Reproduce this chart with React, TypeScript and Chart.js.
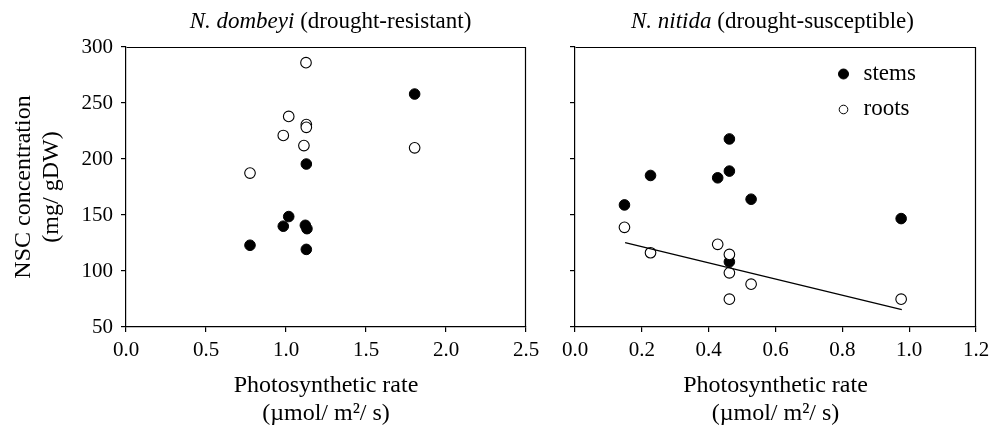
import React, { useEffect, useRef } from 'react';
import { Chart, registerables } from 'chart.js';

Chart.register(...registerables);

const FONT = '"Liberation Serif", "Times New Roman", serif';

// Tick labels
const yTickValues = [50, 100, 150, 200, 250, 300];
const leftXTickLabels = ['0.0', '0.5', '1.0', '1.5', '2.0', '2.5'];
const rightXTickLabels = ['0.0', '0.2', '0.4', '0.6', '0.8', '1.0', '1.2'];

// N. dombeyi (drought-resistant)
const dombeyiStemsX = [0.775, 0.983, 1.017, 1.121, 1.131, 1.127, 1.127, 1.804];
const dombeyiStemsY = [123, 140, 148.6, 140.8, 137.8, 119.3, 195.5, 258];
const dombeyiRootsX = [0.775, 0.983, 1.017, 1.112, 1.127, 1.127, 1.125, 1.804];
const dombeyiRootsY = [187.4, 221, 238, 212, 230.7, 228.3, 286, 210];

// N. nitida (drought-susceptible)
const nitidaStemsX = [0.148, 0.226, 0.427, 0.462, 0.462, 0.462, 0.527, 0.976];
const nitidaStemsY = [159, 185.3, 183.2, 217.9, 189.2, 108.2, 164.1, 146.8];
const nitidaRootsX = [0.148, 0.226, 0.427, 0.462, 0.462, 0.462, 0.527, 0.976];
const nitidaRootsY = [139, 116.3, 123.8, 114.8, 98.4, 74.8, 88.2, 74.8];

// Regression line (roots, N. nitida)
const nitidaFitX = [0.15, 0.978];
const nitidaFitY = [125.3, 65.6];

const seriesLabels = ['stems', 'roots'];

const pts = (xs: number[], ys: number[]) => xs.map((x, i) => ({ x, y: ys[i] }));

const framePlugin = {
  id: 'frame',
  afterDraw(chart: any) {
    const { ctx, chartArea: a } = chart;
    ctx.save();
    ctx.strokeStyle = '#000';
    ctx.lineWidth = 1.2;
    ctx.beginPath();
    ctx.moveTo(Math.round(a.left) + 0.5, Math.round(a.top) + 0.5);
    ctx.lineTo(Math.round(a.right) - 0.5, Math.round(a.top) + 0.5);
    ctx.lineTo(Math.round(a.right) - 0.5, Math.round(a.bottom));
    ctx.stroke();
    ctx.restore();
  },
};

const legendPlugin = {
  id: 'innerLegend',
  afterDraw(chart: any) {
    const { ctx, chartArea: a } = chart;
    const mx = a.left + 268.5;
    const tx = a.left + 288.5;
    const rows = [
      { label: seriesLabels[0], y: 74, fill: '#000', r: 5 },
      { label: seriesLabels[1], y: 109.5, fill: '#fff', r: 4.3 },
    ];
    ctx.save();
    ctx.font = `23px ${FONT}`;
    ctx.textBaseline = 'alphabetic';
    ctx.textAlign = 'left';
    rows.forEach((row) => {
      ctx.beginPath();
      ctx.arc(mx, row.y, row.r, 0, Math.PI * 2);
      ctx.fillStyle = row.fill;
      ctx.fill();
      ctx.lineWidth = 1;
      ctx.strokeStyle = '#000';
      ctx.stroke();
      ctx.fillStyle = '#000';
      ctx.fillText(row.label, tx, row.y + 5.5);
    });
    ctx.restore();
  },
};

function makeOptions(cfg: {
  xMax: number;
  xStep: number;
  xLabels: string[];
  yWidth: number;
  showYLabels: boolean;
  padRight: number;
}) {
  const tickFont = { family: FONT, size: 21 };
  const titleFont = { family: FONT, size: 24, lineHeight: '28px' };
  return {
    responsive: false,
    animation: false as const,
    layout: { padding: { top: 47, right: cfg.padRight, left: 0, bottom: 0 } },
    plugins: { legend: { display: false }, tooltip: { enabled: false }, title: { display: false } },
    scales: {
      x: {
        type: 'linear' as const,
        min: 0,
        max: cfg.xMax,
        afterFit: (s: any) => {
          s.height = 102;
          s.paddingLeft = 0;
          s.paddingRight = 0;
        },
        ticks: {
          stepSize: cfg.xStep,
          autoSkip: false,
          maxRotation: 0,
          padding: 6,
          color: '#000',
          font: tickFont,
          callback: (_v: any, i: number) => cfg.xLabels[i],
        },
        grid: { display: true, drawOnChartArea: false, drawTicks: true, tickLength: 5, color: '#000', lineWidth: 1.2 },
        border: { display: true, color: '#000', width: 1.2 },
        title: {
          display: true,
          text: ['Photosynthetic rate', '(\u00b5mol/ m\u00b2/ s)'],
          color: '#000',
          font: titleFont,
          padding: { top: 0, bottom: 1 },
        },
      },
      y: {
        type: 'linear' as const,
        min: 50,
        max: 300,
        afterFit: (s: any) => {
          s.width = cfg.yWidth;
          s.paddingTop = 0;
          s.paddingBottom = 0;
        },
        afterBuildTicks: (s: any) => {
          s.ticks = yTickValues.map((v) => ({ value: v }));
        },
        ticks: {
          display: cfg.showYLabels,
          padding: 8,
          color: '#000',
          font: tickFont,
        },
        grid: { display: true, drawOnChartArea: false, drawTicks: true, tickLength: 5, color: '#000', lineWidth: 1.2 },
        border: { display: true, color: '#000', width: 1.2 },
        title: {
          display: cfg.showYLabels,
          text: ['NSC concentration', '(mg/ gDW)'],
          color: '#000',
          font: titleFont,
          padding: { top: 10, bottom: 0 },
        },
      },
    },
  };
}

const stemStyle = {
  pointRadius: 5.3,
  pointBackgroundColor: '#000',
  pointBorderColor: '#000',
  pointBorderWidth: 1,
  showLine: false,
};
const rootStyle = {
  pointRadius: 5.3,
  pointBackgroundColor: '#fff',
  pointBorderColor: '#000',
  pointBorderWidth: 1.1,
  showLine: false,
};

function LeftChart() {
  const ref = useRef<HTMLCanvasElement>(null);
  useEffect(() => {
    const chart = new Chart(ref.current!, {
      type: 'scatter',
      data: {
        datasets: [
          { label: seriesLabels[1], data: pts(dombeyiRootsX, dombeyiRootsY), order: 1, ...rootStyle },
          { label: seriesLabels[0], data: pts(dombeyiStemsX, dombeyiStemsY), order: 2, ...stemStyle },
        ],
      },
      options: makeOptions({ xMax: 2.5, xStep: 0.5, xLabels: leftXTickLabels, yWidth: 126, showYLabels: true, padRight: 14 }) as any,
      plugins: [framePlugin],
    });
    return () => chart.destroy();
  }, []);
  return <canvas ref={ref} width={540} height={429} style={{ position: 'absolute', left: 0, top: 0, width: 540, height: 429 }} />;
}

function RightChart() {
  const ref = useRef<HTMLCanvasElement>(null);
  useEffect(() => {
    const chart = new Chart(ref.current!, {
      type: 'scatter',
      data: {
        datasets: [
          {
            label: 'fit',
            data: pts(nitidaFitX, nitidaFitY),
            showLine: true,
            pointRadius: 0,
            borderColor: '#000',
            borderWidth: 1.3,
            order: 0,
          },
          { label: seriesLabels[1], data: pts(nitidaRootsX, nitidaRootsY), order: 1, ...rootStyle },
          { label: seriesLabels[0], data: pts(nitidaStemsX, nitidaStemsY), order: 2, ...stemStyle },
        ],
      },
      options: makeOptions({ xMax: 1.2, xStep: 0.2, xLabels: rightXTickLabels, yWidth: 35, showYLabels: false, padRight: 15 }) as any,
      plugins: [framePlugin, legendPlugin],
    });
    return () => chart.destroy();
  }, []);
  return <canvas ref={ref} width={451} height={429} style={{ position: 'absolute', left: 540, top: 0, width: 451, height: 429 }} />;
}

const titleStyle = (center: number): React.CSSProperties => ({
  position: 'absolute',
  left: center - 200,
  top: 7.5,
  width: 400,
  textAlign: 'center',
  fontFamily: FONT,
  fontSize: 23,
  lineHeight: '26px',
  color: '#000',
  whiteSpace: 'nowrap',
});

export default function App() {
  return (
    <div style={{ position: 'absolute', left: 0, top: 0, width: 991, height: 429, background: '#fff', overflow: 'hidden' }}>
      <LeftChart />
      <RightChart />
      <div style={titleStyle(330.5)}>
        <i>N. dombeyi</i> (drought-resistant)
      </div>
      <div style={titleStyle(772.5)}>
        <i>N. nitida</i> (drought-susceptible)
      </div>
    </div>
  );
}
